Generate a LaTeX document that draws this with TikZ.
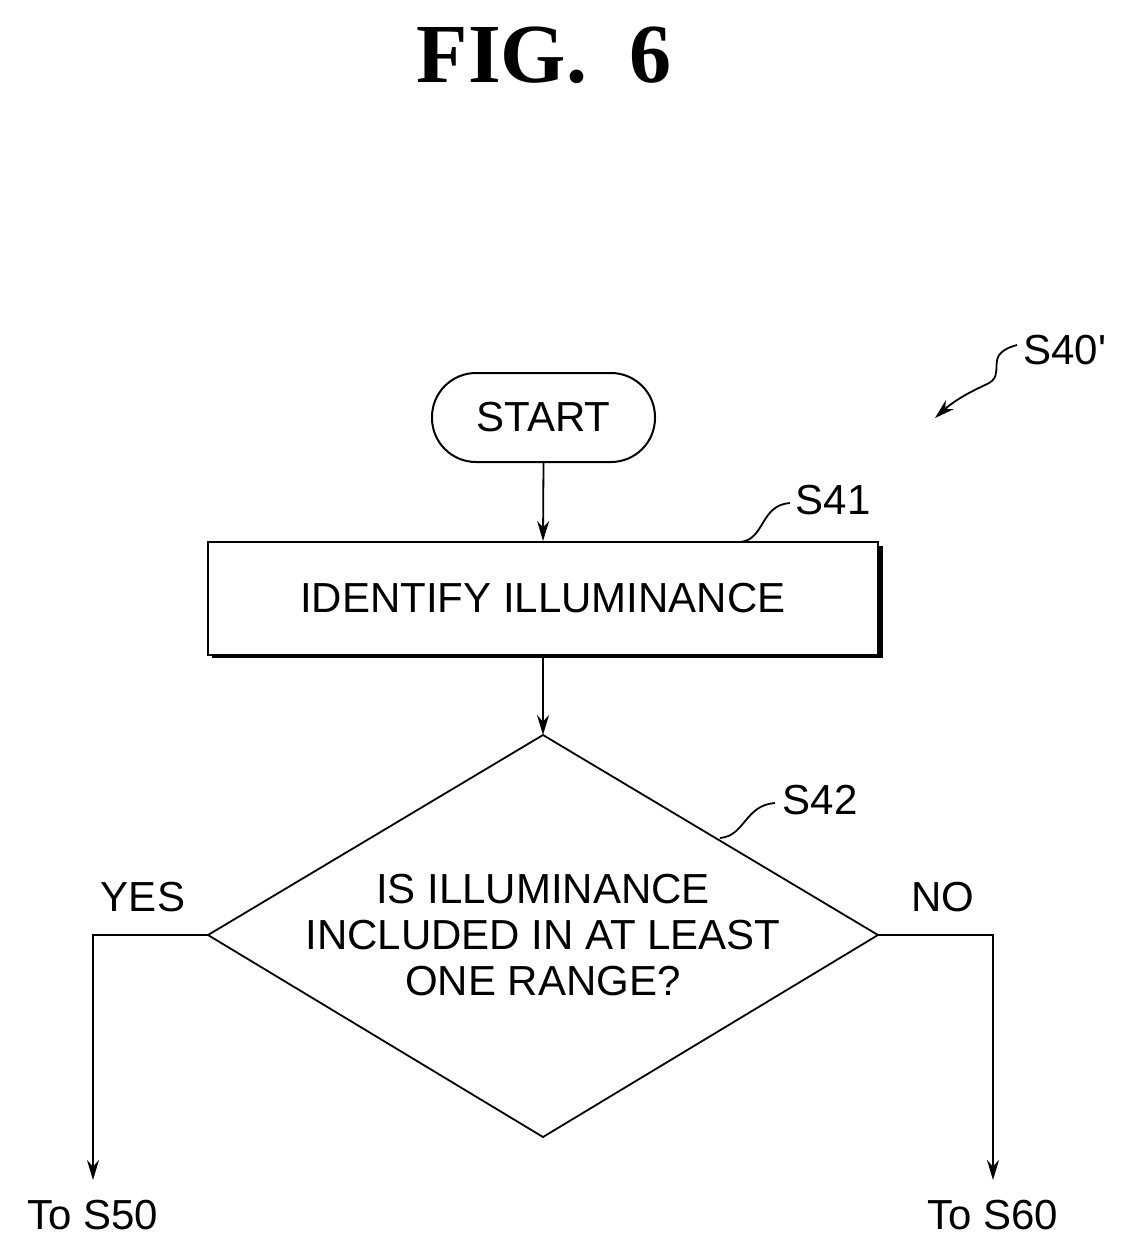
\documentclass[tikz,border=0pt]{standalone}
\usepackage{fontspec}
\setmainfont{Liberation Sans}
\newfontfamily\titlefont{Liberation Serif}
\usetikzlibrary{arrows.meta}
\begin{document}
\begin{tikzpicture}[x=0.5pt,y=-0.5pt,
  lbl/.style={font=\fontsize{21}{25}\selectfont},
  box/.style={draw,line width=1pt},
  arr/.style={line width=0.9pt,-{Stealth[length=10pt,width=6pt]}},
  ln/.style={line width=0.9pt}]
\useasboundingbox (0,0) rectangle (1130,1260);
\node[font=\titlefont\bfseries\fontsize{42}{48}\selectfont] (title) at (544,55) {FIG.\ \ 6};
% start
\node[box,rounded corners=22pt,minimum width=111.5pt,minimum height=44.5pt,lbl] (start) at (543.5,417.5) {START};
% S41 box
\draw[line width=2.5pt] (212,655) -- (880,655) -- (880,546);
\node[box,minimum width=335pt,minimum height=56.5pt,lbl,fill=white] (s41) at (543,598.5) {IDENTIFY ILLUMINANCE};
% diamond
\coordinate (dt) at (543,735); \coordinate (dl) at (208,935);
\coordinate (dr) at (878,935); \coordinate (db) at (543,1137);
\draw[ln] (dt) -- (dr) -- (db) -- (dl) -- cycle;
\node[lbl,align=center] (q) at (543,935) {IS ILLUMINANCE\\[-2pt]INCLUDED IN AT LEAST\\[-2pt]ONE RANGE?};
\draw[arr] (start.south) -- (s41.north);
\draw[arr] (s41.south) -- (dt);
\coordinate (yc) at (93,935); \coordinate (ye) at (93,1180);
\coordinate (nc) at (993,935); \coordinate (ne) at (993,1180);
\draw[arr] (dl) -- (yc) -- (ye);
\draw[arr] (dr) -- (nc) -- (ne);
\node[lbl] (yes) at (143,897) {YES};
\node[lbl] (no) at (943,897) {NO};
\node[lbl] (t50) at (93,1215) {To S50};
\node[lbl] (t60) at (993,1215) {To S60};
% ref labels
\node[lbl] (l41) at (833,500) {S41};
\node[lbl] (l42) at (820,800) {S42};
\node[lbl] (l40) at (1065,350) {S40\textquotesingle};
\draw[ln] (740,542) .. controls (765,540) and (760,505) .. (790,503);
\draw[ln] (720,838) .. controls (745,836) and (745,805) .. (775,803);
\draw[line width=0.9pt,-{Stealth[length=10pt,width=6pt]}] (1017,345) .. controls (980,355) and (1010,375) .. (985,385) .. controls (970,392) and (955,400) .. (935,418);
\end{tikzpicture}
\end{document}
